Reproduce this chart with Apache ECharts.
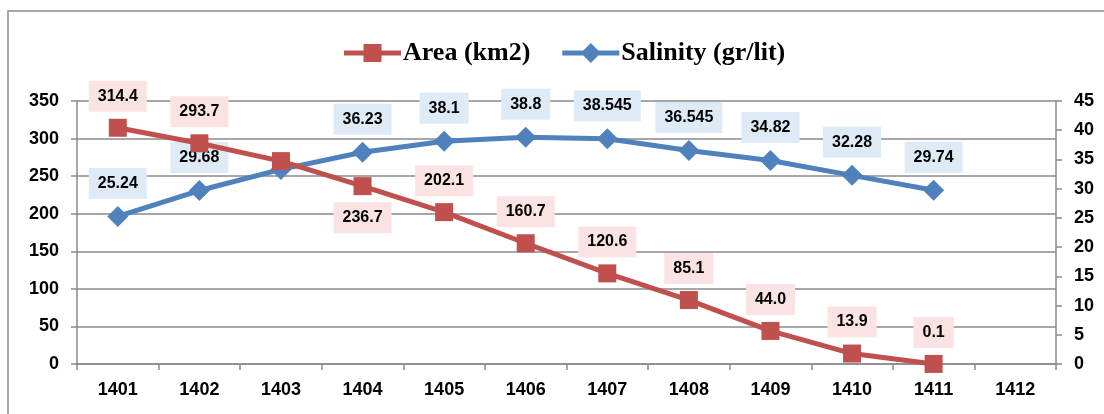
<!DOCTYPE html>
<html>
<head>
<meta charset="utf-8">
<script src="https://cdn.jsdelivr.net/npm/echarts@6/dist/echarts.min.js"></script>
<style>
  html, body { margin: 0; padding: 0; background: #ffffff; }
  #chart { width: 1104px; height: 414px; }
</style>
</head>
<body>
<div id="chart"></div>
<script>
// Lake surface area and water salinity by year
const years = ['1401', '1402', '1403', '1404', '1405', '1406', '1407', '1408', '1409', '1410', '1411', '1412'];
const areaKm2 = [314.4, 293.7, 270.0, 236.7, 202.1, 160.7, 120.6, 85.1, 44.0, 13.9, 0.1, null];
const salinity = [25.24, 29.68, 33.3, 36.23, 38.1, 38.8, 38.545, 36.545, 34.82, 32.28, 29.74, null];
const areaTicks = [0, 50, 100, 150, 200, 250, 300, 350];
const salinityTicks = [0, 5, 10, 15, 20, 25, 30, 35, 40, 45];

const RED = '#C0504D';
const BLUE = '#4F81BD';
const GRID = '#8a8a8a';
const LABEL_FONT = "'Liberation Sans', Arial, sans-serif";

// Legend glyphs: thick line with the series marker in the middle
const ICON_AREA = 'path://M0,7.5L57,7.5L57,12.5L0,12.5Z M19.5,1L37.5,1L37.5,19L19.5,19Z M0,0L0.01,0Z M0,20L0.01,20Z';
const ICON_SALINITY = 'path://M0,7.5L57,7.5L57,12.5L0,12.5Z M28.5,0L38.5,10L28.5,20L18.5,10Z';

function labelStyle(bg) {
  return {
    show: true,
    position: 'top',
    distance: 7,
    color: '#000',
    fontFamily: LABEL_FONT,
    fontWeight: 'bold',
    fontSize: 16,
    lineHeight: 17,
    backgroundColor: bg,
    padding: [7, 9, 7, 9]
  };
}

// Area points: 1403 carries no label, 1404 has its label underneath
const areaData = areaKm2.map((v, i) => {
  if (v === null) return null;
  const item = { value: v, label: { formatter: v.toFixed(1) } };
  if (i === 2) item.label.show = false;
  if (i === 3) item.label.position = 'bottom';
  return item;
});

// Salinity points: 1403 carries no label
const salinityData = salinity.map((v, i) => {
  if (v === null) return null;
  const item = { value: v, label: { formatter: String(v) } };
  if (i === 2) item.label.show = false;
  return item;
});

const axisLabel = {
  color: '#000',
  fontFamily: LABEL_FONT,
  fontWeight: 'bold',
  fontSize: 18
};

const chart = echarts.init(document.getElementById('chart'), null, { renderer: 'canvas' });

chart.setOption({
  animation: false,
  backgroundColor: '#ffffff',
  graphic: [{
    type: 'rect',
    shape: { x: 8, y: 11, width: 1200, height: 600 },
    style: { fill: 'none', stroke: '#8c8c8c', lineWidth: 1.5 },
    silent: true,
    z: -10
  }],
  legend: {
    top: 35,
    left: 339,
    itemWidth: 57,
    itemHeight: 20,
    itemGap: 32,
    textStyle: {
      fontFamily: "'Liberation Serif', 'Times New Roman', serif",
      fontWeight: 'bold',
      fontSize: 26,
      color: '#000',
      padding: [0, 0, 0, -3]
    },
    data: [
      { name: 'Area (km2)', icon: ICON_AREA, itemStyle: { color: RED } },
      { name: 'Salinity (gr/lit)', icon: ICON_SALINITY, itemStyle: { color: BLUE } }
    ]
  },
  grid: {
    left: 77,
    right: 48,
    top: 101,
    bottom: 50,
    containLabel: false
  },
  xAxis: {
    type: 'category',
    data: years,
    boundaryGap: true,
    axisLine: { show: true, lineStyle: { color: GRID, width: 1.5 } },
    axisTick: { show: true, alignWithLabel: false, length: 6, lineStyle: { color: GRID, width: 1.5 } },
    axisLabel: Object.assign({ margin: 17 }, axisLabel),
    splitLine: { show: false }
  },
  yAxis: [{
    type: 'value',
    min: areaTicks[0],
    max: areaTicks[areaTicks.length - 1],
    interval: areaTicks[1] - areaTicks[0],
    axisLine: { show: true, lineStyle: { color: GRID, width: 1.5 } },
    axisTick: { show: true, length: 6, lineStyle: { color: GRID, width: 1.5 } },
    axisLabel: Object.assign({ margin: 18 }, axisLabel),
    splitLine: { show: true, lineStyle: { color: GRID, width: 1.5 } }
  }, {
    type: 'value',
    position: 'right',
    min: salinityTicks[0],
    max: salinityTicks[salinityTicks.length - 1],
    interval: salinityTicks[1] - salinityTicks[0],
    axisLine: { show: true, lineStyle: { color: GRID, width: 1.5 } },
    axisTick: { show: true, length: 6, lineStyle: { color: GRID, width: 1.5 } },
    axisLabel: Object.assign({ margin: 18 }, axisLabel),
    splitLine: { show: false }
  }],
  series: [{
    name: 'Area (km2)',
    type: 'line',
    yAxisIndex: 0,
    data: areaData,
    symbol: 'rect',
    symbolSize: 18,
    color: RED,
    itemStyle: { color: RED },
    lineStyle: { color: RED, width: 5 },
    label: labelStyle('#FBE3E3'),
    z: 3
  }, {
    name: 'Salinity (gr/lit)',
    type: 'line',
    yAxisIndex: 1,
    data: salinityData,
    symbol: 'diamond',
    symbolSize: 21,
    color: BLUE,
    itemStyle: { color: BLUE },
    lineStyle: { color: BLUE, width: 5 },
    label: labelStyle('#DEEBF6'),
    z: 2
  }]
});
</script>
</body>
</html>
